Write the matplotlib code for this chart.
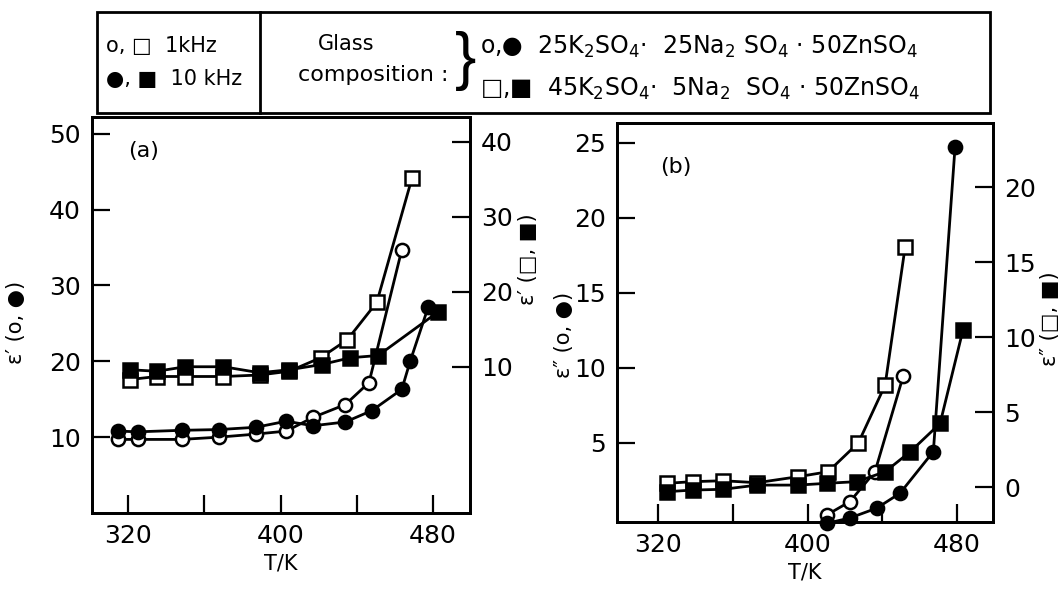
import matplotlib
matplotlib.use('Agg')
import matplotlib.pyplot as plt
from matplotlib.patches import Rectangle
from matplotlib.lines import Line2D

plt.rcParams['font.family'] = ['DejaVu Sans']

# ---- panel (a): eps' vs T ----
a_T_oc = [314.8, 325, 348, 367.7, 387, 403, 417, 434, 446.4, 463.6]
a_oc = [9.7, 9.7, 9.7, 10.0, 10.4, 10.8, 12.6, 14.3, 17.2, 34.7]
a_T_fc = [314.8, 325, 348, 367.7, 387, 403, 417, 434, 447.9, 463.6, 468, 477.4]
a_fc = [10.8, 10.7, 10.9, 11.0, 11.3, 12.1, 11.5, 12.0, 13.5, 16.3, 20.0, 27.1]
a_T_os = [321, 335, 350, 370, 389, 404.5, 421, 435, 450.5, 469]
a_os = [8.3, 8.7, 8.7, 8.7, 8.9, 9.4, 11.2, 13.6, 18.6, 35.2]
a_T_fs = [321, 335, 350, 370, 389, 404.5, 421.6, 436.6, 451.2, 482.6]
a_fs = [9.6, 9.4, 10.0, 10.0, 9.2, 9.6, 10.3, 11.2, 11.5, 17.3]

# ---- panel (b): eps'' vs T ----
b_T_oc = [410.3, 422.7, 436.1, 451.1]
b_oc = [0.2, 1.09, 3.09, 9.42]
b_T_fc = [410.3, 422.7, 437, 449.5, 467.3, 478.9]
b_fc = [-0.36, 0.0, 0.65, 1.65, 4.42, 24.7]
b_T_os = [324.7, 338.7, 354.8, 373, 394.9, 411, 427.2, 441.5, 452.2]
b_os = [0.25, 0.36, 0.42, 0.29, 0.69, 1.02, 2.95, 6.8, 16.0]
b_T_fs = [324.7, 338.7, 354.8, 373, 394.9, 410.3, 426.3, 441.5, 454.9, 470.9, 483.2]
b_fs = [-0.31, -0.2, -0.15, 0.13, 0.13, 0.25, 0.36, 1.02, 2.35, 4.24, 10.5]

xticks = [320, 360, 400, 440, 480]
xticklabels = ['320', '', '400', '', '480']

W, H = 1059, 592
fig = plt.figure(figsize=(W / 100, H / 100), dpi=100)


def fx(x):
    return x / W


def fy(y):
    return 1 - y / H


def style(ax, side):
    for s in ax.spines.values():
        s.set_linewidth(2)
    ax.tick_params(axis='both', direction='in', length=13, width=1.6,
                   labelsize=18, pad=8)
    if side == 'left':
        ax.tick_params(axis='y', left=True, right=False)
        ax.tick_params(axis='x', top=False)


def draw(ax, T, v, marker, filled):
    ax.plot(T, v, color='black', lw=2, marker=marker, ms=9.5,
            mfc='black' if filled else 'white', mec='black', mew=1.8,
            clip_on=False, zorder=3)


# panel (a)
ax1 = fig.add_axes([fx(92), fy(513), (470 - 92) / W, (513 - 117) / H])
ax1r = ax1.twinx()
style(ax1, 'left')
style(ax1r, 'right')
ax1.set_xlim(301, 499.4)
ax1.set_ylim(0, 52.2)
ax1r.set_ylim(-9.5, 43.3)
ax1.set_xticks(xticks)
ax1.set_xticklabels(xticklabels)
ax1.set_yticks([10, 20, 30, 40, 50])
ax1r.set_yticks([10, 20, 30, 40])
draw(ax1, a_T_oc, a_oc, 'o', False)
draw(ax1, a_T_fc, a_fc, 'o', True)
draw(ax1r, a_T_os, a_os, 's', False)
draw(ax1r, a_T_fs, a_fs, 's', True)
ax1.set_xlabel('T/K', fontsize=15, labelpad=4)
ax1.set_ylabel('ε′ (o, ●)', fontsize=15)
ax1.yaxis.set_label_coords(-0.175, 0.48)
ax1r.set_ylabel('ε′ (□, ■)', fontsize=15, rotation=90)
ax1r.yaxis.set_label_coords(1.128, 0.64)
ax1.text(0.095, 0.9, '(a)', transform=ax1.transAxes, fontsize=16)

# panel (b)
ax2 = fig.add_axes([fx(617), fy(522), (993 - 617) / W, (522 - 123) / H])
ax2r = ax2.twinx()
style(ax2, 'left')
style(ax2r, 'right')
ax2.set_xlim(298.1, 499.2)
ax2.set_ylim(-0.27, 26.3)
ax2r.set_ylim(-2.33, 24.27)
ax2.set_xticks(xticks)
ax2.set_xticklabels(xticklabels)
ax2.set_yticks([5, 10, 15, 20, 25])
ax2r.set_yticks([0, 5, 10, 15, 20])
draw(ax2, b_T_oc, b_oc, 'o', False)
draw(ax2, b_T_fc, b_fc, 'o', True)
draw(ax2r, b_T_os, b_os, 's', False)
draw(ax2r, b_T_fs, b_fs, 's', True)
ax2.set_xlabel('T/K', fontsize=15, labelpad=4)
ax2.set_ylabel('ε″ (o, ●)', fontsize=15)
ax2.yaxis.set_label_coords(-0.115, 0.47)
ax2r.set_ylabel('ε″ (□, ■)', fontsize=15, rotation=90)
ax2r.yaxis.set_label_coords(1.125, 0.51)
ax2.text(0.115, 0.875, '(b)', transform=ax2.transAxes, fontsize=16)

# header box
fig.add_artist(Rectangle((fx(97), fy(113)), (990 - 97) / W, (113 - 12) / H,
                         transform=fig.transFigure, fill=False, lw=2,
                         edgecolor='black'))
fig.add_artist(Line2D([fx(260), fx(260)], [fy(12), fy(113)],
                      transform=fig.transFigure, color='black', lw=2))
fs = 15
fig.text(fx(106), fy(46), 'o, □  1kHz', fontsize=fs, va='center')
fig.text(fx(106), fy(79), '●, ■  10 kHz', fontsize=fs, va='center')
fig.text(fx(318), fy(44), 'Glass', fontsize=fs, va='center')
fig.text(fx(298), fy(75), 'composition :', fontsize=fs + 1, va='center')
fig.text(fx(455), fy(61), '}', fontsize=46, va='center',
         family='Liberation Sans')
fig.text(fx(480), fy(47),
         r'o,●  25K$_2$SO$_4$·  25Na$_2$ SO$_4$ · 50ZnSO$_4$',
         fontsize=17, va='center')
fig.text(fx(480), fy(89),
         r'□,■  45K$_2$SO$_4$·  5Na$_2$  SO$_4$ · 50ZnSO$_4$',
         fontsize=17, va='center')

fig.savefig('out.png', dpi=100)
